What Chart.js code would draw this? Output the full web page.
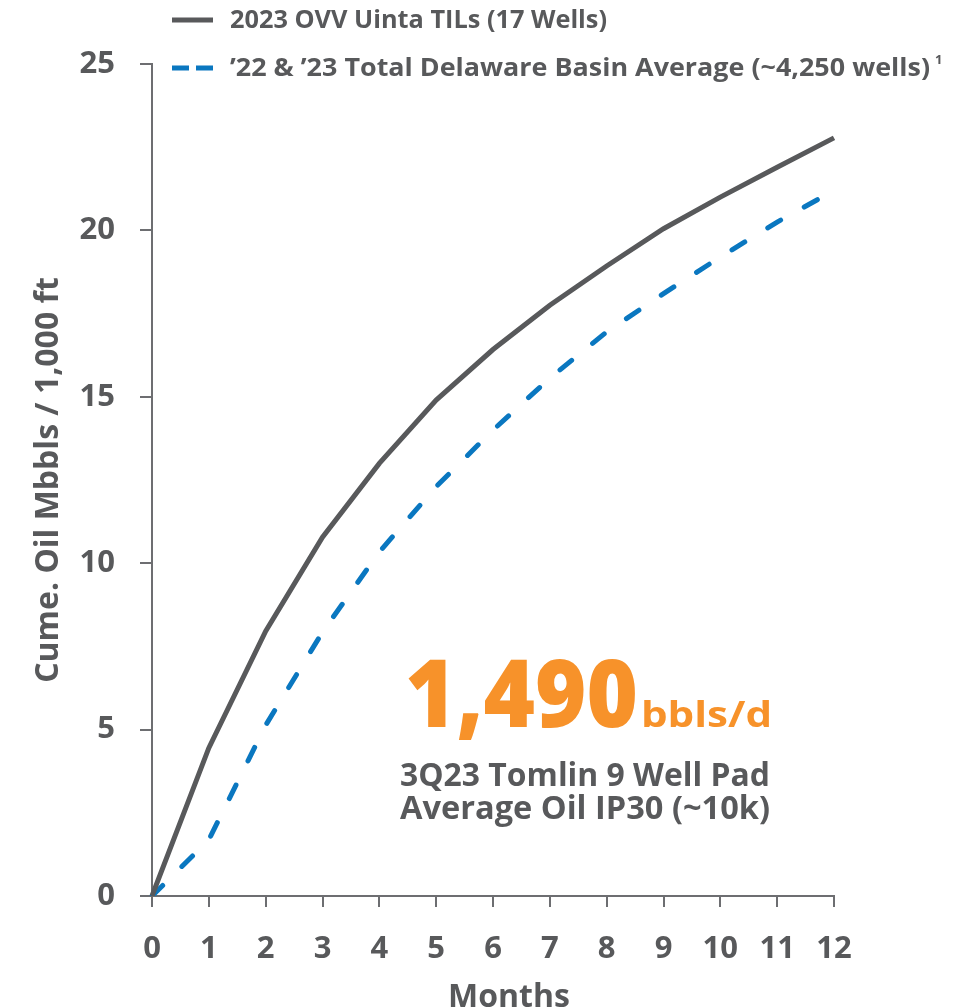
<!DOCTYPE html>
<html>
<head>
<meta charset="utf-8">
<script src="https://cdn.jsdelivr.net/npm/chart.js@4"></script>
<style>
  html, body { margin: 0; padding: 0; background: #fff; }
  #wrap { width: 968px; height: 1007px; position: relative; }
</style>
</head>
<body>
<div id="wrap"><canvas id="cumeChart"></canvas></div>
<script>
var months = ["0", "1", "2", "3", "4", "5", "6", "7", "8", "9", "10", "11", "12"];
var uintaCume = [0, 4.45, 7.96, 10.78, 13.0, 14.9, 16.42, 17.75, 18.93, 20.05, 21.0, 21.9, 22.78];
var delawareCume = [0, 1.69, 5.13, 7.93, 10.34, 12.3, 14.0, 15.56, 16.95, 18.1, 19.2, 20.25, 21.2];
var seriesNames = ["2023 OVV Uinta TILs (17 Wells)", "\u201922 & \u201923 Total Delaware Basin Average (~4,250 wells)"];
var yTicks = [0, 5, 10, 15, 20, 25];

var GREY = "#58595b";
var AXIS = "#6d6e71";
var BLUE = "#0a77c0";
var ORANGE = "#f7922a";
var FONT = "'Open Sans', 'DejaVu Sans', sans-serif";

// stretch/squeeze a string so it spans exactly `width` px
function fitText(ctx, text, x, y, width, align) {
    var w = ctx.measureText(text).width;
    var k = width / w;
    ctx.save();
    ctx.textAlign = "left";
    var x0 = align === "center" ? x - width / 2 : x;
    ctx.translate(x0, y);
    ctx.scale(k, 1);
    ctx.fillText(text, 0, 0);
    ctx.restore();
}

// legend drawn by hand: two stacked rows above the plot
var legendPlugin = {
    id: "stackedLegend",
    afterDraw: function (chart) {
        var ctx = chart.ctx;
        var rows = [20, 68];
        var widths = [377, 700];
        ctx.save();
        chart.data.datasets.forEach(function (ds, i) {
            var y = rows[i];
            ctx.strokeStyle = ds.borderColor;
            ctx.lineWidth = 5;
            ctx.lineCap = "butt";
            ctx.setLineDash(i === 1 ? [17, 7] : []);
            ctx.beginPath();
            ctx.moveTo(172, y);
            ctx.lineTo(213, y);
            ctx.stroke();
            ctx.setLineDash([]);
            ctx.fillStyle = GREY;
            ctx.font = "700 25px " + FONT;
            ctx.textBaseline = "middle";
            fitText(ctx, ds.label, 230, y + 1, widths[i], "left");
        });
        ctx.font = "700 13px " + FONT;
        ctx.textBaseline = "middle";
        ctx.fillText("1", 935, 60);
        ctx.restore();
    }
};

// IP30 call-out
var calloutPlugin = {
    id: "callout",
    afterDraw: function (chart) {
        var ctx = chart.ctx;
        ctx.save();
        ctx.textBaseline = "alphabetic";
        ctx.fillStyle = ORANGE;
        ctx.font = "800 94px " + FONT;
        fitText(ctx, "1,490", 405, 727, 233, "left");
        ctx.font = "700 36px " + FONT;
        fitText(ctx, "bbls/d", 641, 727, 131, "left");
        ctx.fillStyle = GREY;
        ctx.font = "700 32px " + FONT;
        fitText(ctx, "3Q23 Tomlin 9 Well Pad", 585, 786, 370, "center");
        fitText(ctx, "Average Oil IP30 (~10k)", 585, 819, 370, "center");
        ctx.restore();
    }
};

var lineData = {
    labels: months,
    datasets: [
        {
            label: seriesNames[0],
            data: uintaCume,
            borderColor: GREY,
            backgroundColor: GREY,
            borderWidth: 5,
            pointRadius: 0,
            tension: 0,
            fill: false
        }, {
            label: seriesNames[1],
            data: delawareCume,
            borderColor: BLUE,
            backgroundColor: BLUE,
            borderWidth: 5,
            borderDash: [15, 27],
            borderCapStyle: "round",
            pointRadius: 0,
            tension: 0,
            fill: false
        }
    ]
};

var lineOptions = {
    responsive: true,
    maintainAspectRatio: false,
    animation: false,
    layout: { padding: { top: 64, right: 134, left: 0, bottom: 0 } },
    plugins: {
        legend: { display: false },
        tooltip: { enabled: false }
    },
    scales: {
        x: {
            type: "category",
            offset: false,
            afterFit: function (scale) { scale.height = 111; },
            grid: { drawOnChartArea: false, drawTicks: true, tickLength: 11, color: AXIS, lineWidth: 2 },
            border: { color: AXIS, width: 2 },
            ticks: { color: GREY, padding: 24, font: { family: FONT, size: 31, weight: "700" }, maxRotation: 0, autoSkip: false },
            // leading en-spaces nudge the title right to sit where the original does
            title: { display: true, text: "\u2002\u2002Months", color: GREY, font: { family: FONT, size: 32, weight: "700" }, padding: { top: 0, bottom: -10 } }
        },
        y: {
            min: 0,
            max: 25,
            afterBuildTicks: function (scale) {
                scale.ticks = yTicks.map(function (v) { return { value: v }; });
            },
            afterFit: function (scale) { scale.width = 152; },
            grid: { drawOnChartArea: false, drawTicks: true, tickLength: 12, color: AXIS, lineWidth: 2 },
            border: { color: AXIS, width: 2 },
            ticks: { color: GREY, padding: 25, font: { family: FONT, size: 31, weight: "700" } },
            title: { display: true, text: "Cume. Oil Mbbls / 1,000 ft", color: GREY, font: { family: FONT, size: 32, weight: "700" }, padding: { top: 30, bottom: 0 } }
        }
    }
};

var ctx = document.getElementById("cumeChart").getContext("2d");
new Chart(ctx, { type: "line", data: lineData, options: lineOptions, plugins: [legendPlugin, calloutPlugin] });
</script>
</body>
</html>
